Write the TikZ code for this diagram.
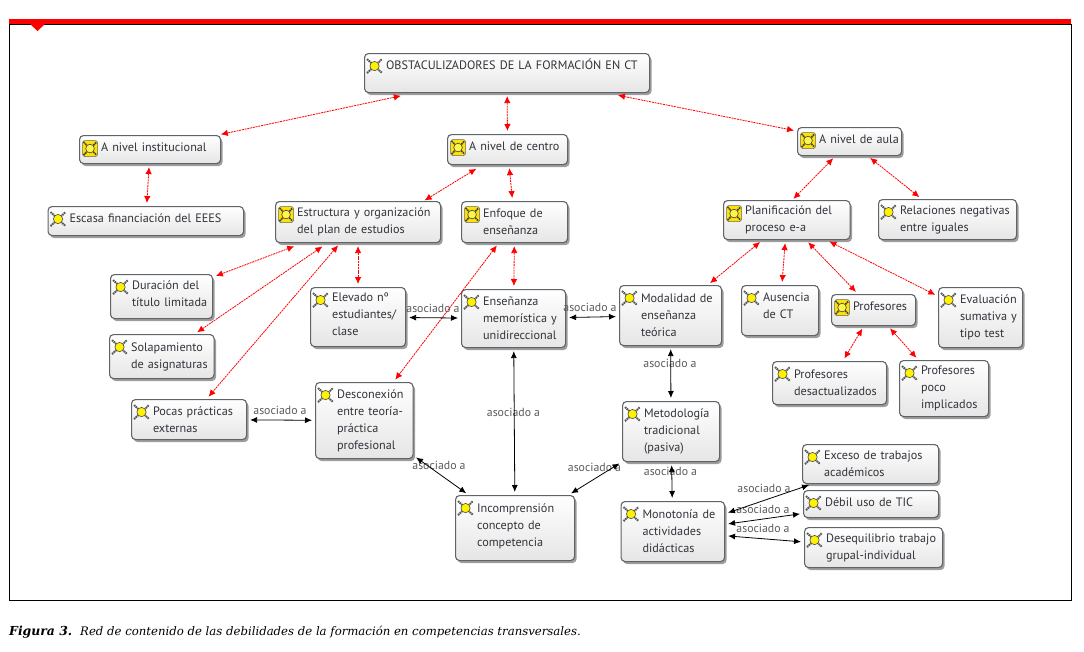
\documentclass[tikz,border=0pt]{standalone}
\usepackage{fontspec}
\setmainfont{PT Sans}
\newfontfamily\capfont{DejaVu Serif}
\usetikzlibrary{shadows,arrows.meta}
\definecolor{framered}{HTML}{FF0000}
\definecolor{boxline}{HTML}{5F6468}
\definecolor{boxtext}{HTML}{30343A}
\definecolor{labeltext}{HTML}{5A5A5A}
\newcommand{\lift}[1]{\rule[-#1]{0pt}{1pt}}
\tikzset{
	concept/.style={rectangle, rounded corners=4pt, draw=boxline, line width=1.1pt, top color=white, bottom color=black!10, inner xsep=3pt, inner ysep=0pt, align=left, text=boxtext, font=\fontsize{12.2}{17}\selectfont, execute at begin node={\leftskip=18.5pt\rightskip=-40pt plus 1fil}, drop shadow={shadow xshift=2pt, shadow yshift=-2.5pt, fill=black!55, opacity=.7}},
	leaf/.style={concept, path picture={\pic at ([shift={(10,12.5)}]path picture bounding box.north west) {leafmark};}},
	branch/.style={concept, path picture={\pic at ([shift={(10.5,13)}]path picture bounding box.north west) {branchmark};}},
	assoc/.style={text=labeltext, inner sep=0pt, font=\fontsize{11.8}{14}\selectfont},
	redlink/.style={red, dash pattern=on 2pt off .8pt, line width=.8pt, {Latex[length=7pt,width=6.5pt]}-{Latex[length=7pt,width=6.5pt]}, shorten <=3pt, shorten >=3pt},
	blacklink/.style={black, line width=.8pt, {Latex[length=7pt,width=6pt]}-{Latex[length=7pt,width=6pt]}, shorten <=3pt, shorten >=3pt},
	pics/leafmark/.style={code={
		\draw [black!65, line width=2pt, dash pattern=on 1.6pt off .7pt] (-7.5,-7) -- (7.5,7) (-7.5,7) -- (7.5,-7);
		\draw [black!70, fill=yellow, line width=.6pt] (-6.3,0) -- (0,-6.3) -- (6.3,0) -- (0,6.3) -- cycle;
	}},
	pics/branchmark/.style={code={
		\draw [black!60, fill=yellow!85!orange, rounded corners=2.5pt, line width=.6pt] (-7.5,-8) rectangle (7.5,8);
		\draw [black!75, line width=1.7pt, dash pattern=on 1.6pt off .7pt] (-6.5,-6.5) -- (6.5,6.5) (-6.5,6.5) -- (6.5,-6.5);
		\draw [black!75, fill=yellow!70, line width=.6pt] (-6,0) -- (0,-6) -- (6,0) -- (0,6) -- cycle;
	}},
}
\begin{document}
\begin{tikzpicture}[x=1pt,y=-1pt]
	\useasboundingbox (0,0) rectangle (1084,651);
	\draw [black, line width=1pt] (9,24) rectangle (1071,600);
	\fill [framered] (9,19) rectangle (1071,24);
	\fill [framered] (30,24) -- (45,24) -- (37.5,31) -- cycle;
	% concepts
	\node (root) [leaf, anchor=north west, text width=279pt, minimum height=39pt] at (364,53) {OBSTACULIZADORES DE LA FORMACIÓN EN CT\\\mbox{}};
	\node (inst) [branch, anchor=north west, text width=135pt, minimum height=28pt] at (79,135) {A nivel institucional\lift{4pt}};
	\node (centro) [branch, anchor=north west, text width=114pt, minimum height=30pt] at (447,134) {A nivel de centro\lift{6pt}};
	\node (aula) [branch, anchor=north west, text width=98pt, minimum height=28pt] at (797,127) {A nivel de aula\lift{4pt}};
	\node (escasa) [leaf, anchor=north west, text width=189.5pt, minimum height=29pt] at (47.5,206) {Escasa financiación del EEES\lift{6pt}};
	\node (estructura) [branch, anchor=north west, text width=159pt, minimum height=41pt] at (275,201) {Estructura y organización\\del plan de estudios};
	\node (enfoque) [branch, anchor=north west, text width=100pt, minimum height=41pt] at (461,201) {Enfoque de\\enseñanza};
	\node (planif) [branch, anchor=north west, text width=120.5pt, minimum height=39pt] at (723,200) {Planificación del\\proceso e-a};
	\node (relaciones) [leaf, anchor=north west, text width=132pt, minimum height=40pt] at (878,199) {Relaciones negativas\\entre iguales};
	\node (duracion) [leaf, anchor=north west, text width=96pt, minimum height=44pt] at (110,274) {Duración del\\título limitada\lift{6pt}};
	\node (solapa) [leaf, anchor=north west, text width=98.5pt, minimum height=44pt] at (109,334) {Solapamiento\\de asignaturas};
	\node (pocas) [leaf, anchor=north west, text width=109pt, minimum height=40pt] at (131,399) {Pocas prácticas\\externas};
	\node (elevado) [leaf, anchor=north west, text width=89pt, minimum height=59pt] at (310,287) {Elevado nº\\estudiantes/\\clase\lift{6pt}};
	\node (ensena) [leaf, anchor=north west, text width=98pt, minimum height=58pt] at (461,289) {Enseñanza\\memorística y\\unidireccional};
	\node (modal) [leaf, anchor=north west, text width=96pt, minimum height=60pt] at (619,285) {Modalidad de\\enseñanza\\teórica};
	\node (ausencia) [leaf, anchor=north west, text width=71pt, minimum height=50pt] at (741,285) {Ausencia\\de CT\lift{10pt}};
	\node (profes) [branch, anchor=north west, text width=78pt, minimum height=31pt] at (831,294) {Profesores\lift{8pt}};
	\node (evalua) [leaf, anchor=north west, text width=78pt, minimum height=60pt] at (938,287) {Evaluación\\sumativa y\\tipo test};
	\node (desact) [leaf, anchor=north west, text width=108pt, minimum height=43pt] at (772,361) {Profesores\\desactualizados};
	\node (poco) [leaf, anchor=north west, text width=83pt, minimum height=56pt] at (899,360) {Profesores\\poco\\implicados};
	\node (descon) [leaf, anchor=north west, text width=91.5pt, minimum height=76pt] at (315,382) {Desconexión\\entre teoría-\\práctica\\profesional};
	\node (metodo) [leaf, anchor=north west, text width=91pt, minimum height=60pt] at (622,401) {Metodología\\tradicional\\(pasiva)};
	\node (exceso) [leaf, anchor=north west, text width=130pt, minimum height=39pt] at (802,444) {Exceso de trabajos\\académicos};
	\node (debil) [leaf, anchor=north west, text width=129pt, minimum height=27pt] at (803,490) {Débil uso de TIC\lift{4pt}};
	\node (incompr) [leaf, anchor=north west, text width=113pt, minimum height=65pt] at (455,495) {Incomprensión\\concepto de\\competencia\lift{6pt}};
	\node (monot) [leaf, anchor=north west, text width=97.5pt, minimum height=60pt] at (620.5,501) {Monotonía de\\actividades\\didácticas};
	\node (deseq) [leaf, anchor=north west, text width=132pt, minimum height=40pt] at (804,527) {Desequilibrio trabajo\\grupal-individual};
	% linking phrases
	\node (asocA) [assoc] at (433,308) {asociado a};
	\node (asocB) [assoc] at (590,307) {asociado a};
	\node (asocC) [assoc] at (280,410) {asociado a};
	\node (asocD) [assoc] at (439,465) {asociado a};
	\node (asocE) [assoc] at (513.5,412) {asociado a};
	\node (asocF) [assoc] at (670,363) {asociado a};
	\node (asocG) [assoc] at (594.5,467) {asociado a};
	\node (asocH) [assoc] at (670.5,471) {asociado a};
	\node (asocI) [assoc] at (764,488) {asociado a};
	\node (asocJ) [assoc] at (763,509) {asociado a};
	\node (asocK) [assoc] at (763,528) {asociado a};
	% red links
	\draw [redlink, shorten <=13pt] (root) -- (inst);
	\draw [redlink] (root) -- (centro);
	\draw [redlink, shorten <=11pt] (root) -- (aula);
	\draw [redlink] (inst) -- (escasa);
	\draw [redlink, shorten <=7pt] (centro) -- ([xshift=64pt,yshift=-1pt]estructura.north);
	\draw [redlink] (centro) -- (enfoque);
	\draw [redlink] (aula) -- ([xshift=4.5pt,yshift=-1pt]planif.north);
	\draw [redlink] (aula) -- (relaciones);
	\draw [redlink, shorten <=9pt] (estructura) -- (duracion);
	\draw [redlink, shorten <=6pt] (estructura) -- (solapa);
	\draw [redlink] (estructura) -- (pocas);
	\draw [redlink] (estructura) -- (elevado);
	\draw [redlink] (enfoque) -- (descon);
	\draw [redlink] (enfoque) -- (ensena);
	\draw [redlink] (planif) -- (modal);
	\draw [redlink] (planif) -- (ausencia);
	\draw [redlink] (planif) -- (profes);
	\draw [redlink] (planif) -- (evalua);
	\draw [redlink] (profes) -- (desact);
	\draw [redlink] (profes) -- (poco);
	% black links
	\draw [blacklink] (elevado) -- (ensena);
	\draw [blacklink] (ensena) -- (modal);
	\draw [blacklink] (pocas) -- (descon);
	\draw [blacklink] (descon) -- (incompr);
	\draw [blacklink] (ensena) -- (incompr);
	\draw [blacklink] (modal) -- (metodo);
	\draw [blacklink] (metodo) -- (incompr);
	\draw [blacklink] (metodo) -- (monot);
	\draw [blacklink] (monot) -- (exceso);
	\draw [blacklink] (monot) -- (debil);
	\draw [blacklink] (monot) -- (deseq);
	% caption
	\node (figlabel) [anchor=base west, inner sep=0pt, font=\capfont\bfseries\itshape\fontsize{12.4}{14}\selectfont] at (9,635) {Figura 3.};
	\node (figtext) [anchor=base west, inner sep=0pt, font=\capfont\itshape\fontsize{11.7}{14}\selectfont] at (80,635) {Red de contenido de las debilidades de la formación en competencias transversales.};
\end{tikzpicture}
\end{document}
